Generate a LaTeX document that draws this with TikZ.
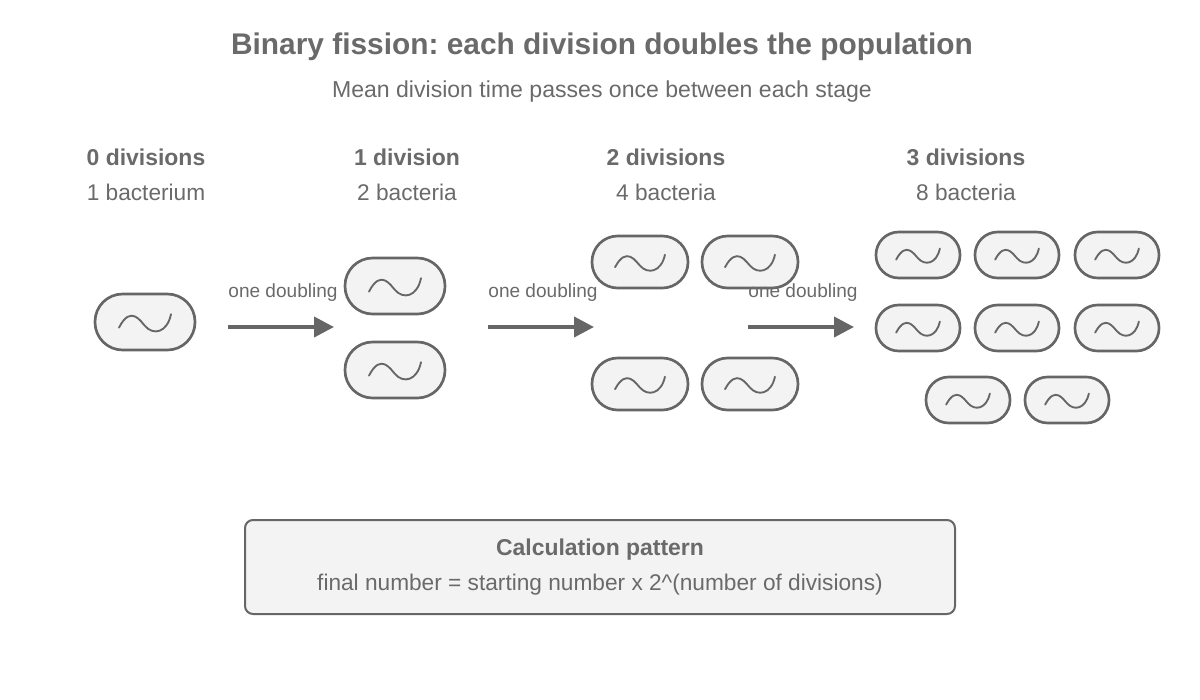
\documentclass[tikz,border=0pt]{standalone}
\usepackage{fontspec}
\setmainfont{Liberation Sans}
\usetikzlibrary{calc,arrows.meta}
\definecolor{ink}{HTML}{666666}
\definecolor{tx}{HTML}{6A6A6A}
\definecolor{bfill}{HTML}{F3F3F3}
\frenchspacing
\begin{document}
\begin{tikzpicture}[x=0.75pt,y=-0.75pt,
  bac/.style={draw=ink,line width=2pt,fill=bfill,inner sep=0pt},
  wave/.style={draw=ink,line width=1.4pt,line cap=round},
  arr/.style={draw=ink,line width=3pt,-{Triangle[length=15pt,width=15pt]}},
  lbl/.style={text=tx,font=\fontsize{14.3}{16}\selectfont,inner sep=0pt},
  hd/.style={text=tx,font=\bfseries\fontsize{17.2}{20}\selectfont,inner sep=0pt},
  sb/.style={text=tx,font=\fontsize{17}{20}\selectfont,inner sep=0pt}]
\useasboundingbox (0,0) rectangle (1200,700);
\newcommand\bac[5]{%
  \node[bac,minimum width=#3*0.75pt,minimum height=#4*0.75pt,rounded corners=#4*0.37pt] (#5) at (#1,#2) {};
  \draw[wave] ($(#5)+(-0.26*#3,0.1*#4)$) .. controls ($(#5)+(-0.14*#3,-0.32*#4)$) and ($(#5)+(-0.04*#3,0.0*#4)$) .. ($(#5)+(0,0.07*#4)$)
     .. controls ($(#5)+(0.08*#3,0.24*#4)$) and ($(#5)+(0.22*#3,0.2*#4)$) .. ($(#5)+(0.26*#3,-0.14*#4)$);}
\node[text=tx,font=\bfseries\fontsize{22.4}{26}\selectfont] (title) at (602,47) {Binary fission: each division doubles the population};
\node[sb,font=\fontsize{17.3}{20}\selectfont] (sub) at (602,92) {Mean division time passes once between each stage};
\node[hd] (h0) at (146,157) {0 divisions}; \node[sb] (s0) at (146,192) {1 bacterium};
\node[hd] (h1) at (407,157) {1 division}; \node[sb] (s1) at (407,192) {2 bacteria};
\node[hd] (h2) at (666,157) {2 divisions}; \node[sb] (s2) at (666,192) {4 bacteria};
\node[hd] (h3) at (966,157) {3 divisions}; \node[sb] (s3) at (966,192) {8 bacteria};
\bac{145}{322}{100}{56}{b0}
\bac{395}{286}{100}{56}{b1a}
\bac{395}{370}{100}{56}{b1b}
\bac{640}{262}{96}{52}{b2a}
\bac{750}{262}{96}{52}{b2b}
\bac{640}{384}{96}{52}{b2c}
\bac{750}{384}{96}{52}{b2d}
\bac{918}{255}{84}{46}{b3a}
\bac{1017}{255}{84}{46}{b3b}
\bac{1117}{255}{84}{46}{b3c}
\bac{918}{328}{84}{46}{b3d}
\bac{1017}{328}{84}{46}{b3e}
\bac{1117}{328}{84}{46}{b3f}
\bac{968}{400}{84}{46}{b3g}
\bac{1067}{400}{84}{46}{b3h}
\coordinate (a1s) at (228,327); \coordinate (a1e) at (334,327);
\coordinate (a2s) at (488,327); \coordinate (a2e) at (594,327);
\coordinate (a3s) at (748,327); \coordinate (a3e) at (854,327);
\draw[arr] (a1s) -- (a1e); \draw[arr] (a2s) -- (a2e); \draw[arr] (a3s) -- (a3e);
\node[lbl] (l1) at (283,293) {one doubling};
\node[lbl] (l2) at (543,293) {one doubling};
\node[lbl] (l3) at (803,293) {one doubling};
\node[draw=ink,line width=1.5pt,fill=bfill,rounded corners=6pt,minimum width=710*0.75pt,minimum height=94*0.75pt] (box) at (600,567) {};
\node[hd] (bt) at (600,550) {Calculation pattern};
\node[sb] (bf) at (600,585) {final number = starting number x 2\^{}(number of divisions)};
\end{tikzpicture}
\end{document}
